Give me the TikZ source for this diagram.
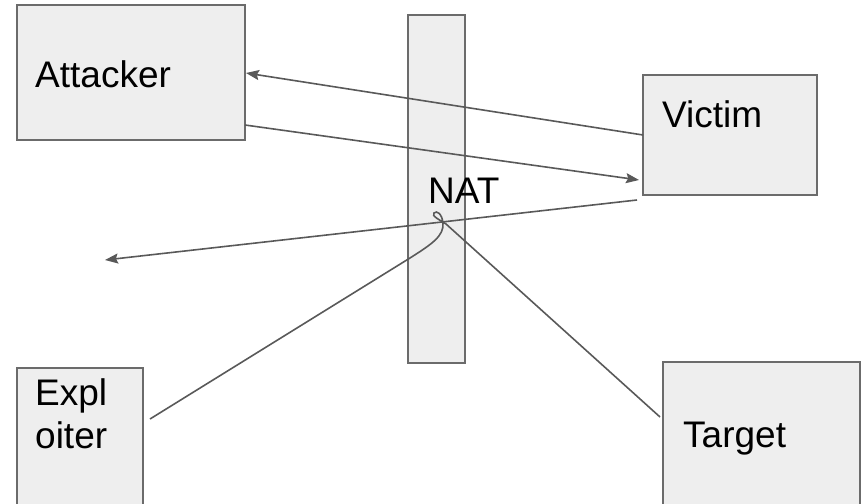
\documentclass[tikz,border=0pt]{standalone}
\usepackage{fontspec}
\setmainfont{Liberation Sans}
\usetikzlibrary{arrows.meta}
\definecolor{boxfill}{HTML}{EEEEEE}
\definecolor{boxline}{HTML}{6B6B6B}
\definecolor{conn}{HTML}{595959}
\tikzset{
  box/.style={draw=boxline, fill=boxfill, line width=1.6pt, rectangle, inner sep=0pt, outer sep=0pt},
  lbl/.style={anchor=base west, inner sep=0pt, font=\fontsize{37}{43}\selectfont, text=black},
  conline/.style={draw=conn, line width=1.6pt},
  arr/.style={conline, -{Stealth[length=13pt, width=10pt, inset=2pt]}}
}
\begin{document}
\begin{tikzpicture}[x=1pt, y=-1pt]
\useasboundingbox (0,0) rectangle (864,503);
\clip (0,0) rectangle (864,503);
% boxes
\node[box, minimum width=228pt, minimum height=135pt, anchor=north west] (attacker) at (17,5) {};
\node[box, minimum width=174pt, minimum height=120pt, anchor=north west] (victim) at (643,75) {};
\node[box, minimum width=57pt, minimum height=348pt, anchor=north west] (nat) at (408,15) {};
\node[box, minimum width=126pt, minimum height=150pt, anchor=north west] (exploiter) at (17,368) {};
\node[box, minimum width=197pt, minimum height=150pt, anchor=north west] (target) at (663,362) {};
% labels
\node[lbl] (tattacker) at (35,87) {Attacker};
\node[lbl] (tvictim) at (662,127) {Victim};
\node[lbl] (tnat) at (428,203) {NAT};
\node[lbl] (texpl1) at (35,405) {Expl};
\node[lbl] (texpl2) at (35,448) {oiter};
\node[lbl] (ttarget) at (683,447) {Target};
% connector end points
\coordinate (c1s) at (643,135);
\coordinate (c1e) at (246,73);
\coordinate (c2s) at (245,125);
\coordinate (c2e) at (639,180);
\coordinate (c3s) at (637,200);
\coordinate (c3e) at (105,260);
\coordinate (c4s) at (150,419);
\coordinate (c4e) at (660,417);
% connectors
\draw[arr] (c1s) -- (c1e);
\draw[arr] (c2s) -- (c2e);
\draw[arr] (c3s) -- (c3e);
\draw[conline] (c4s) -- (410,258) .. controls (432,244) and (444,236) .. (443,223)
  .. controls (442,214) and (437,210) .. (434,213)
  .. controls (431,216) and (440,220) .. (446,224) -- (c4e);
\end{tikzpicture}
\end{document}
